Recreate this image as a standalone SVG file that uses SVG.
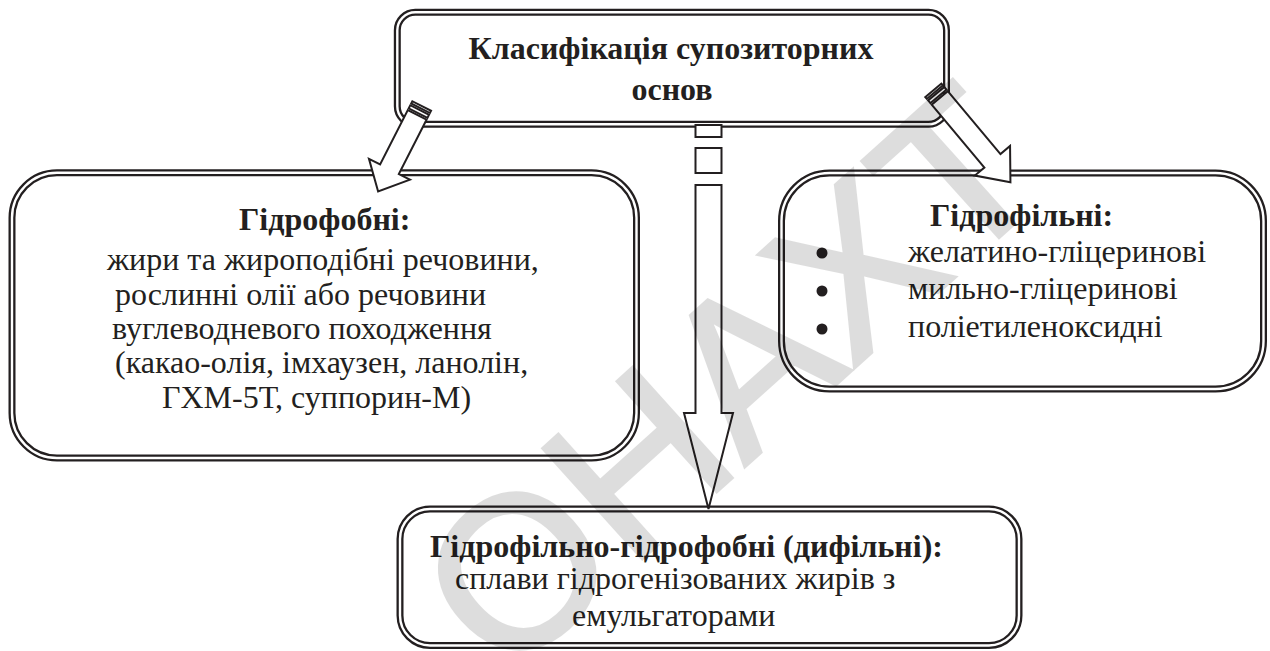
<svg xmlns="http://www.w3.org/2000/svg" width="1270" height="651" viewBox="0 0 1270 651">
<defs>
<style>
.bo{fill:none;stroke:#231f20;stroke-width:7}
.bi{fill:none;stroke:#ffffff;stroke-width:2.4}
.ar{fill:#ffffff;stroke:#231f20;stroke-width:2;stroke-linejoin:miter}
.m{text-anchor:middle}
</style>
</defs>
<rect x="0" y="0" width="1270" height="651" fill="#ffffff"/>

<g font-family="'Liberation Serif', 'Times New Roman', 'DejaVu Serif', serif" font-size="32" fill="#231f20">
<g id="node-top">
<rect class="bo" x="397.3" y="12.3" width="549.2" height="112" rx="18"/>
<rect class="bi" x="397.3" y="12.3" width="549.2" height="112" rx="18"/>
<text font-weight="bold" class="m" x="671" y="59">Класифікація супозиторних</text>
<text font-weight="bold" class="m" x="672" y="100">основ</text>
</g>

<g id="node-hydrophobic">
<rect class="bo" x="12" y="172.8" width="624.5" height="285.2" rx="45"/>
<rect class="bi" x="12" y="172.8" width="624.5" height="285.2" rx="45"/>
<text font-weight="bold" x="239" y="230">Гідрофобні:</text>
<text x="107" y="270">жири та жироподібні речовини,</text>
<text x="115" y="305">рослинні олії або речовини</text>
<text x="112" y="339">вуглеводневого походження</text>
<text x="115" y="373">(какао-олія, імхаузен, ланолін,</text>
<text x="162" y="408">ГХМ-5Т, суппорин-М)</text>
</g>

<g id="node-hydrophilic">
<rect class="bo" x="781.5" y="173" width="482" height="216" rx="48"/>
<rect class="bi" x="781.5" y="173" width="482" height="216" rx="48"/>
<text font-weight="bold" x="930" y="226">Гідрофільні:</text>
<circle cx="822" cy="253" r="5.5"/>
<circle cx="822" cy="291" r="5.5"/>
<circle cx="822" cy="329" r="5.5"/>
<text x="908" y="262">желатино-гліцеринові</text>
<text x="908" y="299">мильно-гліцеринові</text>
<text x="908" y="337">поліетиленоксидні</text>
</g>

<g id="node-amphiphilic">
<rect class="bo" x="400" y="509" width="619" height="136.5" rx="30"/>
<rect class="bi" x="400" y="509" width="619" height="136.5" rx="30"/>
<text font-weight="bold" x="430" y="557">Гідрофільно-гідрофобні (дифільні):</text>
<text x="455" y="589">сплави гідрогенізованих жирів з</text>
<text x="572" y="626">емульгаторами</text>
</g>
</g>

<g id="connectors">
<g transform="translate(421.7,106) rotate(117)">
<rect class="ar" x="0" y="-10.5" width="2.5" height="21"/>
<rect class="ar" x="4.5" y="-10.5" width="3.5" height="21"/>
<path class="ar" d="M10,-10.5 H71 V-23 L96,0 L71,23 V10.5 H10 Z"/>
</g>
<g transform="translate(933.3,90.3) rotate(50)">
<rect class="ar" x="0" y="-10.5" width="2.5" height="21"/>
<rect class="ar" x="4.5" y="-10.5" width="3.5" height="21"/>
<path class="ar" d="M10,-10.5 H92 V-23 L120,0 L92,23 V10.5 H10 Z"/>
</g>
<rect class="ar" x="695.5" y="125" width="26" height="12"/>
<rect class="ar" x="695.5" y="148" width="26" height="25"/>
<path class="ar" d="M695.5,185 H721.5 V413 H733 L708.5,509 L684,413 H695.5 Z"/>
</g>

<g id="watermark" opacity="0.13">
<text font-family="'Liberation Sans', Arial, sans-serif" font-size="215" fill="#000" stroke="#000" stroke-width="4" transform="translate(505,682) rotate(-42)">ОНАХТ</text>
</g>
</svg>
